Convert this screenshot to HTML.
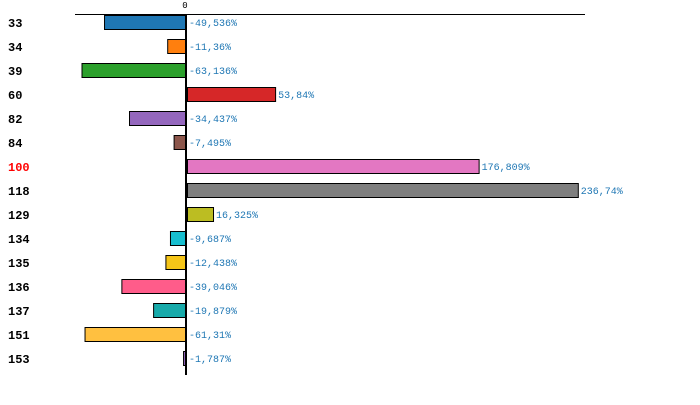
<!DOCTYPE html>
<html><head><meta charset="utf-8"><style>
body{margin:0;background:#fff;width:700px;height:405px;overflow:hidden}
svg{display:block}
</style></head><body>
<svg id="chart" width="700" height="405" xmlns="http://www.w3.org/2000/svg"></svg>
<script>
const categories=["33","34","39","60","82","84","100","118","129","134","135","136","137","151","153"];
const values=[-49.536,-11.36,-63.136,53.84,-34.437,-7.495,176.809,236.74,16.325,-9.687,-12.438,-39.046,-19.879,-61.31,-1.787];
const valueLabels=["-49,536%","-11,36%","-63,136%","53,84%","-34,437%","-7,495%","176,809%","236,74%","16,325%","-9,687%","-12,438%","-39,046%","-19,879%","-61,31%","-1,787%"];
const colors=["#1f77b4","#ff7f0e","#2ca02c","#d62728","#9467bd","#8c564b","#e377c2","#7f7f7f","#bcbd22","#17becf","#f5c518","#ff5c8a","#17aaaa","#ffc040","#9467bd"];
const highlight="100";
const NS="http://www.w3.org/2000/svg";
const svg=document.getElementById('chart');
const x0=186, k=1.655, top0=15, pitch=24, bh=15;
function xs(v){return x0+v*k;}
function ys(i){return top0+i*pitch;}
function mk(t,a){const e=document.createElementNS(NS,t);for(const n in a)e.setAttribute(n,a[n]);svg.appendChild(e);return e;}
const tl=mk('line',{x1:75,x2:585,y1:14.5,y2:14.5,stroke:'#000','stroke-width':1});


const z=mk('text',{x:185,y:8,'font-family':'Liberation Mono, monospace','font-size':9,'text-anchor':'middle',fill:'#000'});
z.textContent='0';


categories.forEach((c,i)=>{
  const v=values[i];const y=ys(i);
  const x1=v<0?xs(v):x0+1;const w=Math.abs(xs(v)-x0);
  const r=mk('rect',{x:x1+0.5,y:y+0.5,width:Math.max(w-1,1),height:bh-1,fill:colors[i],stroke:'#000','stroke-width':1});
  
  
  const lab=mk('text',{x:8,y:y+12,'font-family':'Liberation Mono, monospace','font-size':12,'font-weight':'bold',fill:c===highlight?'#ff0000':'#000'});
  lab.textContent=c;
  
  
  const vx=v<0?x0+3:xs(v)+3;
  const vl=mk('text',{x:vx,y:y+11,'font-family':'Liberation Mono, monospace','font-size':10,fill:'#1f77b4'});
  vl.textContent=valueLabels[i];
  
  
});
const ax=mk('line',{x1:x0,x2:x0,y1:14,y2:375,stroke:'#000','stroke-width':2});


</script>
</body></html>
